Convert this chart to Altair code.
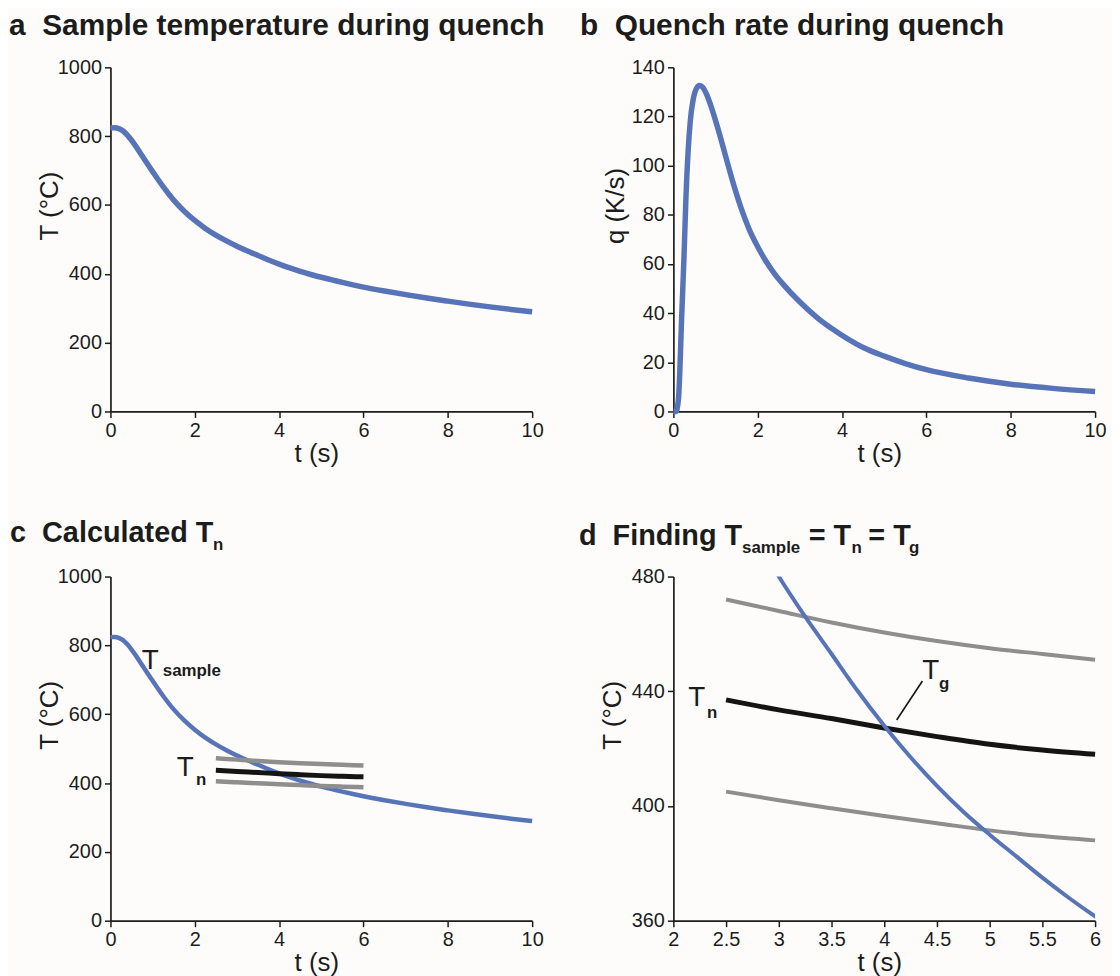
import altair as alt
import pandas as pd

# ---------------- data ----------------
t_sample = [0, 0.1, 0.2, 0.3, 0.4, 0.5, 0.6, 0.75, 1.0, 1.25, 1.5, 1.75, 2.0, 2.25, 2.5, 2.75,
            3.0, 3.25, 3.5, 3.75, 4.0, 4.25, 4.5, 4.75, 5.0, 5.25, 5.5, 5.75, 6.0, 6.5, 7.0,
            7.5, 8.0, 8.5, 9.0, 9.5, 10.0]
T_sample = [824, 824.5, 822, 815, 803, 788, 771, 743, 697, 653, 614, 582, 555, 532, 512.5, 495.5,
            480, 466, 453, 440, 428, 417, 407, 398, 390, 382.5, 375, 368, 361.5, 350, 339.5,
            329.5, 320.5, 312, 304, 296.5, 289.5]

t_rate = [0, 0.06, 0.12, 0.2, 0.25, 0.3, 0.35, 0.4, 0.47, 0.55, 0.62, 0.7, 0.8, 0.9, 1.0,
          1.1, 1.2, 1.3, 1.4, 1.5, 1.6, 1.8, 2.0, 2.2, 2.4, 2.6, 3.0, 3.4, 3.8, 4.5, 5.0,
          5.5, 6.0, 7.0, 8.0, 9.0, 10.0]
q_rate = [0, 0, 5, 40, 62, 88, 106, 118, 127, 131.5, 132.6, 131.8, 128.5, 123.8, 118.3,
          112.5, 106.3, 100, 94, 88.3, 83, 74, 67, 61, 56, 51.8, 44.5, 38.3, 33.2, 26, 22.5,
          19.5, 17, 13.6, 11.1, 9.4, 8.1]

t_n = [2.5, 3.0, 3.5, 4.0, 4.5, 5.0, 5.5, 6.0]
Tn_upper = [472, 468, 464, 460.5, 457.5, 455, 453, 451]
Tn_mid = [437, 433.5, 430.5, 427.2, 424.2, 421.5, 419.5, 418]
Tn_lower = [405, 402, 399.2, 396.5, 394, 391.5, 389.5, 388]

x_ticks_full = [0, 2, 4, 6, 8, 10]
x_ticks_zoom = [2, 2.5, 3, 3.5, 4, 4.5, 5, 5.5, 6]
T_ticks_full = [0, 200, 400, 600, 800, 1000]
T_ticks_zoom = [360, 400, 440, 480]
q_ticks = [0, 20, 40, 60, 80, 100, 120, 140]

# annotation labels (data coordinates)
c_big_labels = pd.DataFrame({"t": [0.74, 1.57], "T": [732, 421], "lab": ["T", "T"]})
c_sub_labels = pd.DataFrame({"t": [1.24, 2.03], "T": [712, 395], "lab": ["sample", "n"]})
d_big_labels = pd.DataFrame({"t": [2.14, 4.36], "T": [434.9, 444.3], "lab": ["T", "T"]})
d_sub_labels = pd.DataFrame({"t": [2.32, 4.52], "T": [430.7, 440.8], "lab": ["n", "g"]})
d_leader = pd.DataFrame({"t1": [4.118], "T1": [430.0], "t2": [4.362], "T2": [443.6]})

# ---------------- style ----------------
FONT = "Liberation Sans"
BLUE = "#5874b9"
GRAY = "#8e8e8e"
BLACK = "#141414"
INK = "#1c1c1c"
W, H = 424, 346

df_sample = pd.DataFrame({"t": t_sample, "T": T_sample})
df_rate = pd.DataFrame({"t": t_rate, "q": q_rate})
df_up = pd.DataFrame({"t": t_n, "T": Tn_upper})
df_mid = pd.DataFrame({"t": t_n, "T": Tn_mid})
df_low = pd.DataFrame({"t": t_n, "T": Tn_lower})
one = pd.DataFrame({"k": [0]})


def xaxis(values, fmt):
    return alt.Axis(values=values, title="t (s)", grid=False, labelFlush=False, format=fmt,
                    labelOverlap=False, titleX=207, titleY=42, titleBaseline="middle",
                    titleAlign="center")


def yaxis(values, title, tx=-61):
    return alt.Axis(values=values, title=title, grid=False, labelOverlap=False, format="d",
                    titleX=tx, titleY=139, titleAlign="center", titleBaseline="middle",
                    titleAngle=270)


def enc(xdom, xvals, ydom, yvals, ytitle, tx=-61, xfmt="d"):
    X = lambda f: alt.X(f"{f}:Q", scale=alt.Scale(domain=xdom, nice=False, zero=False),
                        axis=xaxis(xvals, xfmt))
    Y = lambda f: alt.Y(f"{f}:Q", scale=alt.Scale(domain=ydom, nice=False, zero=False),
                        axis=yaxis(yvals, ytitle, tx))
    return X, Y


def title_text(text, x, y, size=29, weight="bold"):
    return alt.Chart(one).mark_text(text=text, align="left", baseline="alphabetic",
                                    font=FONT, fontSize=size, fontWeight=weight,
                                    color=INK).encode(x=alt.value(x), y=alt.value(y))


def line(df, X, Y, color, width, yfield="T", clip=False):
    return alt.Chart(df).mark_line(color=color, strokeWidth=width, interpolate="monotone",
                                   clip=clip).encode(x=X("t"), y=Y(yfield))


def labels(df, X, Y, size, weight):
    return alt.Chart(df).mark_text(align="left", baseline="alphabetic", font=FONT,
                                   fontSize=size, fontWeight=weight, color=INK).encode(
        x=X("t"), y=Y("T"), text="lab:N")


# ---------------- panel a ----------------
Xa, Ya = enc([0, 10], x_ticks_full, [0, 1000], T_ticks_full, "T (°C)")
pa = alt.layer(
    line(df_sample, Xa, Ya, BLUE, 5.5),
    title_text("a\u00a0\u00a0Sample temperature during quench", -102, -33, size=30),
).properties(width=W, height=H)

# ---------------- panel b ----------------
Xb, Yb = enc([0, 10], x_ticks_full, [0, 140], q_ticks, "q (K/s)", tx=-58)
pb = alt.layer(
    line(df_rate, Xb, Yb, BLUE, 5.5, yfield="q"),
    title_text("b\u00a0\u00a0Quench rate during quench", -94, -33, size=30),
).properties(width=W, height=H)

# ---------------- panel c ----------------
Xc, Yc = enc([0, 10], x_ticks_full, [0, 1000], T_ticks_full, "T (°C)")
pc = alt.layer(
    line(df_sample, Xc, Yc, BLUE, 4.5),
    line(df_up, Xc, Yc, GRAY, 4.5),
    line(df_low, Xc, Yc, GRAY, 4.5),
    line(df_mid, Xc, Yc, BLACK, 5),
    labels(c_big_labels, Xc, Yc, 28, "normal"),
    labels(c_sub_labels, Xc, Yc, 17, "bold"),
    title_text("c\u00a0\u00a0Calculated T", -101, -35),
    title_text("n", 103, -27, size=17),
).properties(width=W, height=H)

# ---------------- panel d ----------------
Xd, Yd = enc([2, 6], x_ticks_zoom, [360, 480], T_ticks_zoom, "T (°C)", xfmt=".1~f")
pd_ = alt.layer(
    line(df_up, Xd, Yd, GRAY, 4),
    line(df_low, Xd, Yd, GRAY, 4),
    line(df_mid, Xd, Yd, BLACK, 5),
    line(df_sample, Xd, Yd, BLUE, 4, clip=True),
    alt.Chart(d_leader).mark_rule(color=BLACK, strokeWidth=1.6).encode(
        x=Xd("t1"), y=Yd("T1"), x2="t2:Q", y2="T2:Q"),
    labels(d_big_labels, Xd, Yd, 28, "normal"),
    labels(d_sub_labels, Xd, Yd, 17, "bold"),
    title_text("d\u00a0\u00a0Finding T", -95, -32),
    title_text("sample", 69, -24, size=17),
    title_text("= T", 136, -32),
    title_text("n", 179, -24, size=17),
    title_text("= T", 196, -32),
    title_text("g", 237, -24, size=17),
).properties(width=W, height=H)

chart = alt.concat(
    pa, pb, pc, pd_, columns=2, spacing={"row": 166, "column": 142}, bounds="flush"
).configure(
    background="#fdfcfa",
    padding={"left": 1, "top": 0, "right": 5, "bottom": 5},
).configure_view(stroke=None).configure_axis(
    domainColor=INK, domainWidth=1.7, tickColor=INK, tickWidth=1.5, tickSize=6,
    labelFont=FONT, labelFontSize=20, labelColor=INK, labelPadding=3,
    titleFont=FONT, titleFontSize=26, titleFontWeight="normal", titleColor=INK,
)

chart.save("out.html", embed_options={"renderer": "svg", "actions": False})
